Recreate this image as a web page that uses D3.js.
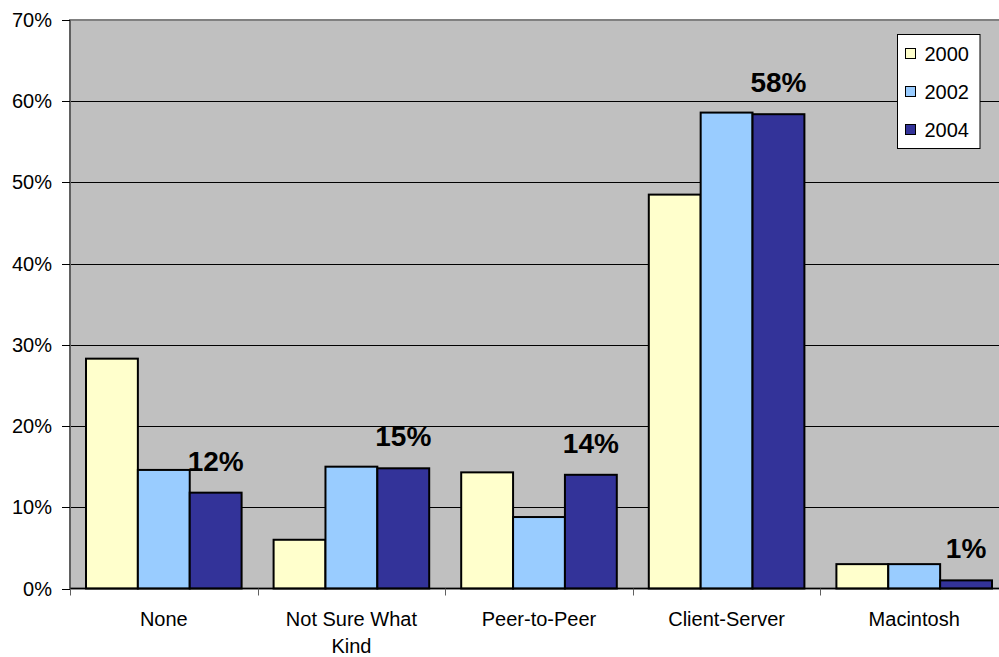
<!DOCTYPE html>
<html>
<head>
<meta charset="utf-8">
<script src="https://cdn.jsdelivr.net/npm/d3@7/dist/d3.min.js"></script>
<style>
  body { margin: 0; background: #fff; }
  svg { display: block; font-family: Arial, "Liberation Sans", sans-serif; }
</style>
</head>
<body>
<div id="chart"></div>
<script>
// data
const categories = ['None', 'Not Sure What Kind', 'Peer-to-Peer', 'Client-Server', 'Macintosh'];
const years = ['2000', '2002', '2004'];
const values2000 = [28.3, 6.0, 14.3, 48.5, 3.0];
const values2002 = [14.6, 15.0, 8.8, 58.6, 3.0];
const values2004 = [11.8, 14.8, 14.0, 58.4, 1.0];
const labels2004 = ['12%', '15%', '14%', '58%', '1%'];
const yTicks = [0, 10, 20, 30, 40, 50, 60, 70];

const colors = { '2000': '#FFFFCC', '2002': '#99CCFF', '2004': '#333399' };
const series = { '2000': values2000, '2002': values2002, '2004': values2004 };

const width = 999, height = 657;
const margin = { top: 20, left: 70, bottom: 68.5 };
const plotRight = 70 + 5 * 187.6; // plot runs past the right edge of the picture

const svg = d3.select('#chart').append('svg')
  .attr('width', width)
  .attr('height', height);

svg.append('rect').attr('width', width).attr('height', height).attr('fill', '#fff');

const x0 = d3.scaleBand()
  .domain(categories)
  .range([margin.left, plotRight])
  .padding(0);

const x1 = d3.scaleBand()
  .domain(years)
  .range([16, x0.bandwidth() - 16])
  .padding(0);

const y = d3.scaleLinear()
  .domain([0, 70])
  .range([height - margin.bottom, margin.top]);

// plot background
svg.append('rect')
  .attr('x', margin.left)
  .attr('y', y(70))
  .attr('width', plotRight - margin.left)
  .attr('height', y(0) - y(70))
  .attr('fill', '#C0C0C0')
  .attr('stroke', '#808080')
  .attr('stroke-width', 2);

// gridlines
svg.append('g')
  .selectAll('line')
  .data(yTicks.filter(d => d > 0 && d < 70))
  .enter()
  .append('line')
  .attr('x1', margin.left)
  .attr('x2', plotRight)
  .attr('y1', d => Math.round(y(d)) + 0.5)
  .attr('y2', d => Math.round(y(d)) + 0.5)
  .attr('stroke', '#000')
  .attr('stroke-width', 1);

// bars
const groups = svg.append('g')
  .selectAll('g')
  .data(categories)
  .enter()
  .append('g')
  .attr('transform', d => 'translate(' + x0(d) + ',0)');

groups.selectAll('rect')
  .data((d, i) => years.map(yr => ({ year: yr, value: series[yr][i] })))
  .enter()
  .append('rect')
  .attr('x', d => x1(d.year))
  .attr('y', d => y(d.value))
  .attr('width', x1.bandwidth())
  .attr('height', d => y(0) - y(d.value))
  .attr('fill', d => colors[d.year])
  .attr('stroke', '#000')
  .attr('stroke-width', 2);

// bold labels above the 2004 bars
svg.append('g')
  .selectAll('text')
  .data(categories)
  .enter()
  .append('text')
  .attr('x', (d, i) => x0(d) + x1('2004') + x1.bandwidth() / 2)
  .attr('y', (d, i) => y(values2004[i]) - 22)
  .attr('text-anchor', 'middle')
  .attr('font-size', 28)
  .attr('font-weight', 'bold')
  .attr('fill', '#000')
  .text((d, i) => labels2004[i]);

// y axis
const yAxis = svg.append('g');
yAxis.append('line')
  .attr('x1', margin.left).attr('x2', margin.left)
  .attr('y1', y(70)).attr('y2', y(0))
  .attr('stroke', '#606060').attr('stroke-width', 2);
yAxis.selectAll('.tick')
  .data(yTicks)
  .enter()
  .append('line')
  .attr('x1', margin.left - 8).attr('x2', margin.left)
  .attr('y1', d => Math.round(y(d)) + 0.5).attr('y2', d => Math.round(y(d)) + 0.5)
  .attr('stroke', '#000');
yAxis.selectAll('text')
  .data(yTicks)
  .enter()
  .append('text')
  .attr('x', 52)
  .attr('y', d => y(d) + 7)
  .attr('text-anchor', 'end')
  .attr('font-size', 20)
  .attr('fill', '#000')
  .text(d => d + '%');

// x axis
const xAxis = svg.append('g');
xAxis.append('line')
  .attr('x1', margin.left).attr('x2', plotRight)
  .attr('y1', y(0)).attr('y2', y(0))
  .attr('stroke', '#000').attr('stroke-width', 1.5);
xAxis.selectAll('line.tick')
  .data(categories.concat(['end']))
  .enter()
  .append('line')
  .attr('class', 'tick')
  .attr('x1', (d, i) => Math.round(margin.left + i * x0.bandwidth()) + 0.5)
  .attr('x2', (d, i) => Math.round(margin.left + i * x0.bandwidth()) + 0.5)
  .attr('y1', y(0)).attr('y2', y(0) + 7)
  .attr('stroke', '#606060');

const xLabels = xAxis.selectAll('text')
  .data(categories)
  .enter()
  .append('text')
  .attr('x', d => x0(d) + x0.bandwidth() / 2)
  .attr('y', 626)
  .attr('text-anchor', 'middle')
  .attr('font-size', 20)
  .attr('fill', '#000');

// wrap long category names onto two lines
xLabels.each(function(d) {
  const t = d3.select(this);
  const words = d.split(' ');
  let line = [];
  let lines = [];
  const maxW = 160;
  words.forEach(w => {
    line.push(w);
    t.text(line.join(' '));
    if (this.getComputedTextLength() > maxW && line.length > 1) {
      line.pop();
      lines.push(line.join(' '));
      line = [w];
    }
  });
  lines.push(line.join(' '));
  t.text(null);
  lines.forEach((l, i) => {
    t.append('tspan')
      .attr('x', x0(d) + x0.bandwidth() / 2)
      .attr('dy', i === 0 ? 0 : 27)
      .text(l);
  });
});

// legend
const legend = svg.append('g').attr('transform', 'translate(897.5,34.5)');
legend.append('rect')
  .attr('width', 82.5)
  .attr('height', 114)
  .attr('fill', '#fff')
  .attr('stroke', '#000')
  .attr('stroke-width', 1);

const legendItems = legend.selectAll('.legend')
  .data(years)
  .enter()
  .append('g')
  .attr('class', 'legend')
  .attr('transform', (d, i) => 'translate(8,' + (19 + i * 38) + ')');

legendItems.append('rect')
  .attr('x', 0)
  .attr('y', -5)
  .attr('width', 10)
  .attr('height', 10)
  .attr('fill', d => colors[d])
  .attr('stroke', '#000')
  .attr('stroke-width', 1);

legendItems.append('text')
  .attr('x', 19)
  .attr('y', 7)
  .attr('font-size', 20)
  .attr('fill', '#000')
  .text(d => d);
</script>
</body>
</html>
